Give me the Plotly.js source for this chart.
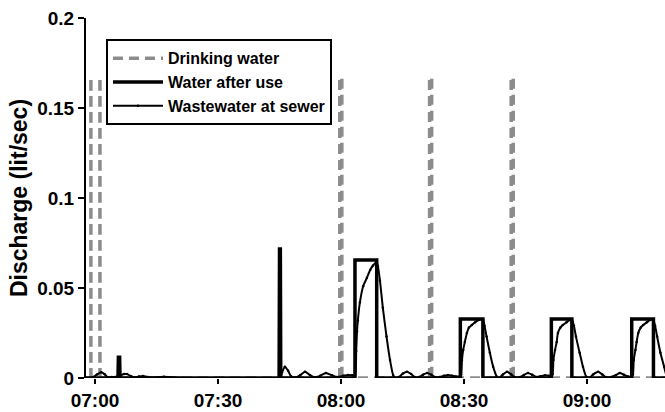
<!DOCTYPE html>
<html>
<head>
<meta charset="utf-8">
<script src="https://cdn.plot.ly/plotly-3.0.1.min.js"></script>
<style>html,body{margin:0;padding:0;background:#fff;}#chart{width:665px;height:412px;}</style>
</head>
<body>
<div id="chart"></div>
<script>
// Times are minutes after 07:00; null separates the drawn pieces of a series
const drinkingMin = [-2.2, 140.2, null, -1.0, -1.0, -1.0, null, 1.2, 1.2, 1.2, null,
  59.7, 59.7, 60.2, 60.2, null, 81.6, 81.6, 82.1, 82.1, null, 101.5, 101.5, 102.0, 102.0];
const drinkingVal = [0, 0, null, 0, 0.167, 0, null, 0, 0.167, 0, null,
  0, 0.167, 0.167, 0, null, 0, 0.167, 0.167, 0, null, 0, 0.167, 0.167, 0];

const useMin = [-2.2, 5.6, 5.7, 6.0, 6.1, 44.9, 45.0, 45.2, 45.3, 63.4, 63.4, 68.7, 68.7, 89.1, 89.1, 94.6, 94.6, 111.3, 111.3, 116.3, 116.3, 130.9, 130.9, 136.2, 136.2, 140.2];
const useVal = [0, 0, 0.0115, 0.0115, 0, 0, 0.0717, 0.0717, 0, 0, 0.0656, 0.0656, 0, 0, 0.0328, 0.0328, 0, 0, 0.0328, 0.0328, 0, 0, 0.0328, 0.0328, 0, 0];

const sewerMin = [-2.2, -0.5, 0.5, 1.5, 2.4, 3.2, 4.1, 5.6, 6.3, 7.1, 7.8, 8.8, 9.8, 10.7, 11.7, 12.9, 13.9, 15.4, 16.8, 18.3, 19.8,
  45.1, 45.6, 46.3, 47.1, 47.8, 48.8, 50.0, 51.2, 52.4, 53.4, 54.9, 56.3, 57.8, 59.0, 60.5, 61.7, 62.7, 63.4,
  63.7, 63.9, 64.1, 64.6, 65.4, 66.3, 67.1, 67.8, 68.7, 69.0, 69.5, 70.2, 71.1, 71.95, 72.7, 73.2,
  74.1, 75.1, 76.1, 77.1, 78.0, 79.0, 80.0, 81.0, 82.0, 82.9, 84.1, 85.1, 86.1, 87.1, 88.0, 89.0,
  89.3, 89.5, 89.8, 90.2, 90.7, 91.2, 91.9, 92.7, 93.5, 94.6, 95.0, 95.5, 96.3, 97.1, 98.0, 98.5,
  99.5, 100.5, 101.5, 102.4, 103.7, 104.6, 105.6, 106.6, 107.6, 108.5, 109.8, 110.7, 111.2,
  111.6, 111.8, 112.2, 112.6, 112.9, 113.5, 114.1, 115.0, 115.7, 116.3, 116.8, 117.3, 118.2, 119.0, 119.8, 120.5,
  121.5, 122.7, 123.7, 124.6, 125.9, 127.1, 128.0, 129.0, 130.0, 130.9,
  131.2, 131.4, 131.8, 132.1, 132.5, 133.1, 133.7, 134.6, 135.3, 136.1, 136.6, 137.1, 137.9, 138.8, 139.5, 140.2];
const sewerVal = [0, 0.0005, 0.002, 0.0032, 0.002, 0.0003, 0.0005, 0.0008, 0.0015, 0.0022, 0.0022, 0.001, 0.0003, 0.0008, 0.0011, 0.0006, 0.0002, 0.0004, 0.0007, 0.0004, 0.0002,
  0.0002, 0.003, 0.0063, 0.004, 0.001, 0.0003, 0.0015, 0.0035, 0.0017, 0.0004, 0.0012, 0.0028, 0.0015, 0.0006, 0.0012, 0.0017, 0.0015, 0.0012,
  0.015, 0.026, 0.032, 0.042, 0.051, 0.0556, 0.060, 0.0625, 0.0645, 0.062, 0.054, 0.039, 0.023, 0.010, 0.0017, 0,
  0.0005, 0.0025, 0.0035, 0.0022, 0.0005, 0.0005, 0.0018, 0.0028, 0.0018, 0.0006, 0.0006, 0.0012, 0.0017, 0.0013, 0.0009, 0.0009,
  0.002, 0.010, 0.0156, 0.020, 0.025, 0.028, 0.0294, 0.031, 0.0322, 0.0326, 0.029, 0.023, 0.014, 0.0063, 0.0007, 0,
  0.002, 0.0035, 0.002, 0.0004, 0.0005, 0.0017, 0.0028, 0.0018, 0.0006, 0.0008, 0.0015, 0.0012, 0.001,
  0.002, 0.010, 0.0156, 0.020, 0.025, 0.028, 0.0294, 0.031, 0.0322, 0.0326, 0.029, 0.023, 0.014, 0.0063, 0.0007, 0,
  0.002, 0.0035, 0.002, 0.0004, 0.0006, 0.0017, 0.0028, 0.0018, 0.0008, 0.001,
  0.002, 0.010, 0.0156, 0.020, 0.025, 0.028, 0.0294, 0.031, 0.0322, 0.0326, 0.029, 0.023, 0.014, 0.0063, 0.0007, 0];

const seriesNames = ['Drinking water', 'Water after use', 'Wastewater at sewer'];
const xRange = ['2000-01-01 06:57:48', '2000-01-01 09:19:01'];
const yTitle = 'Discharge (lit/sec)';

const base = Date.UTC(2000, 0, 1, 7, 0, 0);
function toDate(m) {
  if (m === null) return null;
  return new Date(base + Math.round(m * 60000)).toISOString().slice(0, 19).replace('T', ' ');
}

const FONT = 'Liberation Sans, Arial, Helvetica, sans-serif';

const traces = [
  {x: drinkingMin.map(toDate), y: drinkingVal, name: seriesNames[0], mode: 'lines', type: 'scatter',
   connectgaps: false, line: {color: '#8c8c8c', width: 3.5, dash: '10px,6px'}},
  {x: useMin.map(toDate), y: useVal, name: seriesNames[1], mode: 'lines', type: 'scatter',
   line: {color: '#000', width: 3.5}},
  {x: sewerMin.map(toDate), y: sewerVal, name: seriesNames[2], mode: 'lines+markers', type: 'scatter',
   line: {color: '#000', width: 2, shape: 'spline', smoothing: 0.6}, marker: {color: '#000', size: 2.5}}
];

const layout = {
  width: 665, height: 412,
  margin: {l: 86, r: 0, t: 18, b: 34},
  paper_bgcolor: '#fff', plot_bgcolor: '#fff',
  font: {family: FONT, color: '#000', size: 19, weight: 'bold'},
  showlegend: true,
  legend: {x: 0.0345, y: 0.941, xanchor: 'left', yanchor: 'top', bgcolor: '#fff',
    bordercolor: '#000', borderwidth: 2, font: {family: FONT, size: 16, weight: 'bold', color: '#000'},
    itemwidth: 50, tracegroupgap: 0},
  xaxis: {type: 'date', range: xRange, tickformat: '%H:%M', dtick: 1800000, tick0: '2000-01-01 07:00:00',
    showgrid: false, zeroline: false, showline: false, ticks: 'outside', ticklen: 5, tickwidth: 1.5, tickcolor: '#000',
    tickfont: {family: FONT, size: 19, weight: 'bold', color: '#000'}},
  xaxis2: {type: 'date', overlaying: 'x', anchor: 'y', side: 'top', range: xRange, dtick: 3600000, tick0: '2000-01-01 07:00:00',
    showgrid: false, zeroline: false, showline: true, linecolor: '#222', linewidth: 2, ticks: 'outside', ticklen: 5, tickwidth: 1.5,
    tickcolor: '#000', showticklabels: false},
  yaxis: {range: [0, 0.2], dtick: 0.05, showgrid: false, zeroline: false, showline: true, linecolor: '#000', linewidth: 2,
    ticks: 'outside', ticklen: 6, tickwidth: 1.5, tickcolor: '#000',
    tickfont: {family: FONT, size: 19, weight: 'bold', color: '#000'},
    title: {text: yTitle, font: {family: FONT, size: 23, weight: 'bold', color: '#000'}, standoff: 3}}
};

Plotly.newPlot('chart', traces, layout, {displayModeBar: false, staticPlot: true});
</script>
</body>
</html>
